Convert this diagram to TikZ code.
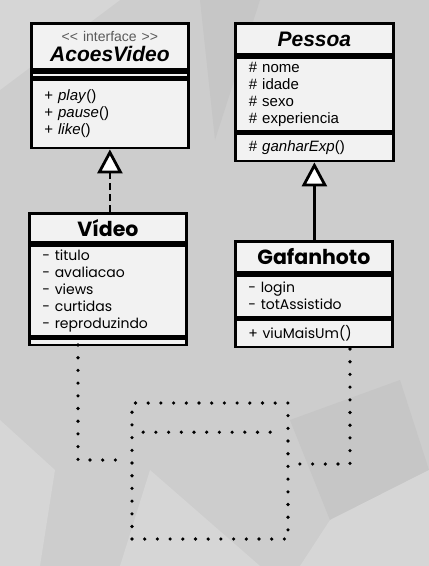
\documentclass[tikz,border=0pt]{standalone}
\usepackage{fontspec}
\setmainfont{Liberation Sans}
\newfontfamily\geofont{Poppins}
\usetikzlibrary{positioning}
\usetikzlibrary{arrows.meta}
\usetikzlibrary{calc}

\definecolor{bgray}{HTML}{CDCDCD}
\definecolor{bglight}{HTML}{D6D6D6}
\definecolor{bgdark}{HTML}{C6C6C6}
\definecolor{boxfill}{HTML}{F2F2F2}
\definecolor{stereo}{HTML}{5A5A5A}

\tikzset{
  part/.style={draw, line width=2.8pt, fill=boxfill, inner sep=0pt,
    minimum width=157pt, text width=131pt, align=left,
    font=\fontsize{15}{17}\selectfont},
  headpart/.style={part, align=center},
  geopart/.style={part, font=\geofont\fontsize{14}{17}\selectfont},
  geohead/.style={headpart, font=\geofont\bfseries\fontsize{20.5}{22}\selectfont},
  inherit/.style={line width=2.8pt, -{Triangle[length=24pt, width=25pt, fill=white]}},
  realize/.style={inherit, dash pattern=on 7pt off 4pt},
  dotline/.style={line width=3.6pt, line cap=round, dash pattern=on 0pt off 12.7pt}
}

\begin{document}
\begin{tikzpicture}[x=1pt, y=-1pt]
% Set the size of the figure
\fill[bgray] (0,0) rectangle (429,566);
\useasboundingbox (0,0) rectangle (429,566);
\fill[bglight] (0,420) -- (55,470) -- (40,566) -- (0,566) -- cycle;
\fill[bglight] (150,470) -- (260,566) -- (120,566) -- cycle;
\fill[bgdark] (290,420) -- (400,380) -- (429,470) -- (330,520) -- cycle;
\fill[bglight] (330,520) -- (429,470) -- (429,566) -- (300,566) -- cycle;
\fill[bglight] (0,0) -- (120,0) -- (0,90) -- cycle;
\fill[bgdark] (200,0) -- (260,0) -- (215,140) -- cycle;

% Interface AcoesVideo
\node[headpart, minimum height=46pt, anchor=north west] (acoeshead) at (30,22)
  {{\color{stereo}\fontsize{14}{15}\selectfont <{}< interface >{}>}\\[3pt]
   {\fontsize{21}{22}\selectfont\bfseries\itshape AcoesVideo}};
\node[part, minimum height=5pt, below=0pt of acoeshead] (acoesgap) {};
\node[part, minimum height=68pt, below=0pt of acoesgap] (acoesmeth)
  {+ \textit{play}()\\+ \textit{pause}()\\+ \textit{like}()};

% Class Pessoa
\node[headpart, minimum height=31pt, minimum width=158pt, anchor=north west] (pessoahead) at (234,22)
  {\fontsize{21}{22}\selectfont\bfseries\itshape Pessoa};
\node[part, minimum height=74pt, minimum width=158pt, below=0pt of pessoahead] (pessoaattr)
  {\# nome\\\# idade\\\# sexo\\\# experiencia};
\node[part, minimum height=27pt, minimum width=158pt, below=0pt of pessoaattr] (pessoameth)
  {\# \textit{ganharExp}()};

% Class Video
\node[geohead, minimum height=29pt, anchor=north west] (videohead) at (28,212) {Vídeo};
\node[geopart, minimum height=91pt, below=0pt of videohead] (videoattr)
  {- titulo\\- avaliacao\\- views\\- curtidas\\- reproduzindo};
\node[geopart, minimum height=6pt, below=0pt of videoattr] (videometh) {};

% Class Gafanhoto
\node[geohead, minimum height=31pt, anchor=north west] (gafhead) at (234,240) {Gafanhoto};
\node[geopart, minimum height=42pt, below=0pt of gafhead] (gafattr)
  {- login\\- totAssistido\par\vspace{8pt}};
\node[geopart, minimum height=27pt, below=0pt of gafattr] (gafmeth) {+ viuMaisUm()};

% Inheritance and realization
\draw[realize] (videohead.north -| acoesmeth.south) -- (acoesmeth.south);
\draw[inherit] (gafhead.north -| pessoameth.south) -- (pessoameth.south);

% Empty class to be filled
\node[dotline, minimum width=156pt, minimum height=136pt, inner sep=0pt, draw] (novaclasse) at (210,471) {};
\draw[dotline] ($(novaclasse.north west)+(13,31)$) -- ($(novaclasse.north east)+(-15,31)$);

% Dotted links
\coordinate (vidout) at (78,345);
\coordinate (vidend) at (118,460);
\coordinate (gafout) at (350,349);
\coordinate (gafend) at (298,464);
\draw[dotline] (vidout) |- (vidend);
\draw[dotline] (gafout) |- (gafend);
\end{tikzpicture}
\end{document}
